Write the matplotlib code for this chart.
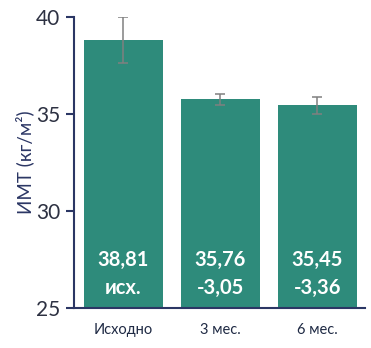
import matplotlib.pyplot as plt
import numpy as np

categories = ['Исходно', '3 мес.', '6 мес.']
bmi = [38.81, 35.76, 35.45]
err = [1.17, 0.29, 0.43]
labels_top = ['38,81', '35,76', '35,45']
labels_bottom = ['исх.', '-3,05', '-3,36']

plt.rcParams['font.family'] = ['Lato', 'DejaVu Sans']

teal = '#2e8b7b'
navy = '#2b3664'

fig = plt.figure(figsize=(3.71, 3.48), dpi=100)
ax = fig.add_axes([0.1995, 0.115, 0.784, 0.836])

x = np.arange(len(categories))
ax.bar(x, bmi, width=0.81, color=teal, bottom=0)
ax.errorbar(x, bmi, yerr=err, fmt='none', ecolor='#808080', elinewidth=1.1,
            capsize=3.5, capthick=1.1)

for xi, t1, t2 in zip(x, labels_top, labels_bottom):
    ax.text(xi, 27.47, t1, ha='center', va='center', color='white',
            fontsize=14.5, fontweight='bold')
    ax.text(xi, 26.03, t2, ha='center', va='center', color='white',
            fontsize=14.5, fontweight='bold')

ax.set_ylim(25, 40)
ax.set_xlim(-0.51, 2.49)
ax.set_yticks([25, 30, 35, 40])
ax.set_xticks(x)
ax.set_xticklabels(categories, fontsize=10.5, color='#1f2a44')
ax.tick_params(axis='x', length=0, pad=11)
ax.tick_params(axis='y', labelsize=15, labelcolor='#2d3142', color=navy,
               width=1.5, length=6, pad=4)

for s in ['top', 'right']:
    ax.spines[s].set_visible(False)
ax.spines['left'].set_color(navy)
ax.spines['left'].set_linewidth(1.5)
ax.spines['bottom'].set_color(navy)
ax.spines['bottom'].set_linewidth(1.5)

fig.text(0.067, 0.535, 'ИМТ (кг/м²)', rotation=90, ha='center', va='center',
         fontsize=13.5, color=navy)

fig.savefig('out.png', dpi=100)
